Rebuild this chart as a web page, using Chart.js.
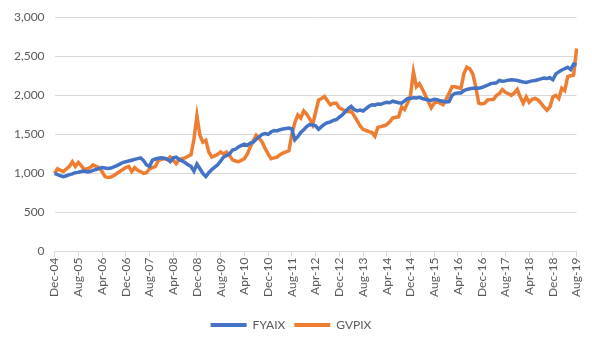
<!DOCTYPE html>
<html>
<head>
<meta charset="utf-8">
<script src="https://cdn.jsdelivr.net/npm/chart.js@4"></script>
<style>
  html, body { margin: 0; padding: 0; background: #fff; }
  #wrap { width: 592px; height: 341px; }
</style>
</head>
<body>
<div id="wrap"><canvas id="growth"></canvas></div>
<script>
// monthly categories, Dec-04 .. Aug-19
var monthNames = ["Jan","Feb","Mar","Apr","May","Jun","Jul","Aug","Sep","Oct","Nov","Dec"];
var startYear = 2004, startMonth = 11, monthCount = 177;
var labels = [];
for (var k = 0; k < monthCount; k++) {
  var m = (startMonth + k) % 12;
  var y = startYear + Math.floor((startMonth + k) / 12);
  labels.push(monthNames[m] + "-" + String(y % 100).padStart(2, "0"));
}

var seriesNames = ["FYAIX", "GVPIX"];

var fyaix = [
  1000, 985, 970, 960, 970, 985, 995, 1010, 1015, 1025, 1030, 1020, 1025, 1040, 1050, 1065,
  1075, 1070, 1065, 1070, 1085, 1100, 1120, 1140, 1150, 1160, 1170, 1180, 1190, 1200, 1165, 1110,
  1090, 1170, 1185, 1195, 1200, 1195, 1185, 1150, 1200, 1210, 1180, 1160, 1140, 1110, 1090, 1030,
  1120, 1060, 1000, 960, 1010, 1050, 1080, 1110, 1160, 1210, 1230, 1250, 1300, 1310, 1340, 1360,
  1375, 1360, 1390, 1400, 1440, 1470, 1500, 1510, 1500, 1530, 1550, 1545, 1560, 1570, 1575, 1580,
  1570, 1430, 1470, 1525, 1560, 1600, 1625, 1620, 1610, 1565, 1600, 1630, 1650, 1660, 1680, 1690,
  1720, 1750, 1790, 1830, 1860, 1820, 1800, 1810, 1800, 1830, 1860, 1880, 1875, 1890, 1885, 1900,
  1910, 1905, 1925, 1915, 1905, 1900, 1930, 1960, 1960, 1970, 1965, 1975, 1960, 1950, 1940, 1935,
  1950, 1945, 1930, 1925, 1915, 1920, 2000, 2025, 2030, 2030, 2060, 2075, 2085, 2090, 2095, 2090,
  2100, 2115, 2130, 2150, 2155, 2160, 2190, 2180, 2185, 2195, 2200, 2195, 2190, 2180, 2170, 2165,
  2175, 2185, 2190, 2200, 2210, 2220, 2215, 2225, 2200, 2275, 2300, 2325, 2340, 2360, 2330, 2400,
  2390
];

var gvpix = [
  1000, 1060, 1040, 1025, 1060, 1090, 1150, 1090, 1140, 1100, 1050, 1060, 1075, 1110, 1090, 1075,
  1025, 960, 950, 955, 975, 1000, 1025, 1050, 1075, 1090, 1025, 1075, 1040, 1025, 1000, 1010,
  1060, 1075, 1090, 1170, 1180, 1190, 1175, 1210, 1170, 1125, 1175, 1190, 1200, 1220, 1240, 1440,
  1740, 1490, 1400, 1425, 1275, 1210, 1225, 1245, 1275, 1250, 1275, 1230, 1175, 1160, 1150, 1170,
  1190, 1250, 1340, 1420, 1490, 1450, 1400, 1320, 1250, 1190, 1200, 1210, 1240, 1260, 1275, 1290,
  1500, 1650, 1750, 1710, 1800, 1760, 1700, 1625, 1780, 1940, 1960, 1985, 1930, 1880, 1900, 1900,
  1840, 1820, 1800, 1790, 1800, 1740, 1675, 1610, 1565, 1550, 1535, 1525, 1475, 1590, 1600, 1610,
  1625, 1660, 1710, 1720, 1725, 1850, 1820, 1900, 2000, 2300, 2110, 2150, 2080, 2000, 1920, 1840,
  1900, 1920, 1900, 1880, 1950, 2025, 2110, 2110, 2100, 2090, 2275, 2360, 2340, 2275, 2110, 1900,
  1890, 1900, 1940, 1945, 1950, 2000, 2025, 2075, 2040, 2020, 2000, 2030, 2075, 1980, 1900, 1980,
  1910, 1950, 1960, 1940, 1900, 1850, 1810, 1850, 1980, 2000, 1960, 2090, 2060, 2240, 2250, 2260,
  2600
];

var yTicks = [0, 500, 1000, 1500, 2000, 2500, 3000];

var gridColor = "#d9d9d9";
var textColor = "#595959";
var fontFamily = "Lato, 'Open Sans', sans-serif";

new Chart("growth", {
  type: "line",
  data: {
    labels: labels,
    datasets: [{
      label: seriesNames[0],
      data: fyaix,
      borderColor: "#4472c4",
      backgroundColor: "#4472c4",
      borderWidth: 3.5,
      pointRadius: 0,
      tension: 0
    }, {
      label: seriesNames[1],
      data: gvpix,
      borderColor: "#ed7d31",
      backgroundColor: "#ed7d31",
      borderWidth: 3.5,
      pointRadius: 0,
      tension: 0
    }]
  },
  options: {
    responsive: true,
    maintainAspectRatio: false,
    animation: false,
    layout: { padding: { left: 4, right: 14, top: 1, bottom: 0 } },
    scales: {
      x: {
        grid: { drawOnChartArea: false, drawTicks: true, tickLength: 5, color: gridColor },
        border: { display: true, color: gridColor },
        ticks: {
          autoSkip: false,
          maxRotation: 90,
          minRotation: 90,
          padding: 1,
          color: textColor,
          font: { size: 12, family: fontFamily },
          callback: function (val, i) {
            return i % 8 === 0 ? labels[i] : null;
          }
        },
        afterFit: function (scale) { scale.height += 12; }
      },
      y: {
        min: yTicks[0],
        max: yTicks[yTicks.length - 1],
        afterBuildTicks: function (axis) {
          axis.ticks = yTicks.map(function (v) { return { value: v }; });
        },
        grid: { color: gridColor, drawTicks: false },
        border: { display: false },
        ticks: {
          padding: 10,
          color: textColor,
          font: { size: 12, family: fontFamily },
          callback: function (v) { return v.toLocaleString("en-US"); }
        }
      }
    },
    plugins: {
      legend: {
        position: "bottom",
        labels: {
          boxWidth: 36,
          boxHeight: 4,
          padding: 9,
          color: textColor,
          font: { size: 12, family: fontFamily },
          generateLabels: function (chart) {
            return Chart.defaults.plugins.legend.labels.generateLabels(chart).map(function (l) {
              l.lineWidth = 0;
              return l;
            });
          }
        }
      },
      tooltip: { enabled: false }
    }
  }
});
</script>
</body>
</html>
